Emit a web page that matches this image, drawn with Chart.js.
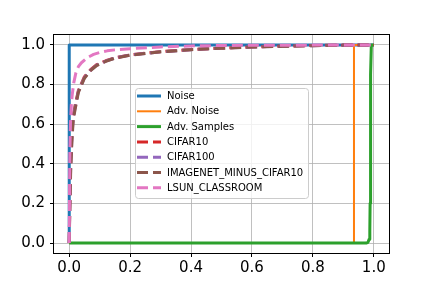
<!DOCTYPE html>
<html><head><meta charset="utf-8">
<script src="https://cdn.jsdelivr.net/npm/chart.js@4/dist/chart.umd.min.js"></script>
<style>html,body{margin:0;padding:0;background:#fff}#wrap{width:432px;height:288px}</style>
</head><body>
<div id="wrap"><canvas id="c" width="432" height="288"></canvas></div>
<script>
// ---- data ----
const seriesNames = ["Noise","Adv. Noise","Adv. Samples","CIFAR10","CIFAR100","IMAGENET_MINUS_CIFAR10","LSUN_CLASSROOM"];
const noiseX = [0, 0, 1];
const noiseY = [0, 1, 1];
const advNoiseX = [0, 0.935, 0.935, 1];
const advNoiseY = [0, 0, 1, 1];
const advSamplesX = [0, 0.975, 0.981, 0.985, 0.987, 0.988, 0.989, 0.990, 0.992, 1];
const advSamplesY = [0, 0, 0.004, 0.02, 0.06, 0.2, 0.5, 0.85, 1, 1];
const cifar10X = [0, 0.002, 0.005, 0.009, 0.013, 0.02, 0.03, 0.05, 0.07, 0.09, 0.12, 0.15, 0.2, 0.25, 0.3, 0.4, 0.5, 0.6, 0.7, 0.8, 0.9, 1];
const cifar10Y = [0, 0.22, 0.42, 0.56, 0.64, 0.70, 0.77, 0.84, 0.875, 0.90, 0.92, 0.935, 0.95, 0.958, 0.966, 0.977, 0.984, 0.99, 0.994, 0.997, 0.999, 1];
const cifar100X = [0, 0.002, 0.005, 0.009, 0.013, 0.02, 0.03, 0.05, 0.07, 0.09, 0.12, 0.15, 0.2, 0.25, 0.3, 0.4, 0.5, 0.6, 0.7, 0.8, 0.9, 1];
const cifar100Y = [0, 0.20, 0.40, 0.54, 0.63, 0.69, 0.765, 0.835, 0.872, 0.898, 0.918, 0.934, 0.949, 0.957, 0.965, 0.976, 0.984, 0.989, 0.993, 0.996, 0.999, 1];
const imagenetX = [0, 0.002, 0.005, 0.009, 0.013, 0.02, 0.03, 0.05, 0.07, 0.09, 0.12, 0.15, 0.2, 0.25, 0.3, 0.4, 0.5, 0.6, 0.7, 0.8, 0.9, 1];
const imagenetY = [0, 0.18, 0.38, 0.52, 0.62, 0.68, 0.76, 0.832, 0.87, 0.896, 0.917, 0.933, 0.948, 0.957, 0.965, 0.976, 0.983, 0.989, 0.993, 0.996, 0.999, 1];
const lsunX = [0, 0.001, 0.002, 0.004, 0.007, 0.01, 0.015, 0.022, 0.03, 0.04, 0.06, 0.08, 0.1, 0.125, 0.15, 0.2, 0.3, 0.4, 0.5, 0.6, 0.8, 1];
const lsunY = [0, 0.25, 0.45, 0.60, 0.70, 0.75, 0.81, 0.86, 0.89, 0.91, 0.936, 0.952, 0.962, 0.97, 0.975, 0.981, 0.99, 0.995, 0.997, 0.998, 0.999, 1];
const xTicks = [0, 0.2, 0.4, 0.6, 0.8, 1.0];
const yTicks = [0, 0.2, 0.4, 0.6, 0.8, 1.0];

// ---- styles ----
const colors = ["#1f77b4","#ff7f0e","#2ca02c","#d62728","#9467bd","#8c564b","#e377c2"];
const widths = [3, 2, 3, 3, 3, 3, 3];
const dashes = [[],[],[],[11,5],[11,5],[11,5],[11,5]];
const xs = [noiseX, advNoiseX, advSamplesX, cifar10X, cifar100X, imagenetX, lsunX];
const ys = [noiseY, advNoiseY, advSamplesY, cifar10Y, cifar100Y, imagenetY, lsunY];

const datasets = seriesNames.map((name, i) => ({
  label: name,
  data: xs[i].map((x, k) => ({x: x, y: ys[i][k]})),
  borderColor: colors[i],
  backgroundColor: colors[i],
  borderWidth: widths[i],
  borderDash: dashes[i],
  borderCapStyle: 'butt',
  borderJoinStyle: 'round',
  pointRadius: 0,
  tension: 0,
  fill: false,
  order: seriesNames.length - i
}));

const FONT = "'DejaVu Sans', sans-serif";

const framePlugin = {
  id: 'frame',
  afterDatasetsDraw(chart) {
    const {ctx, chartArea: a} = chart;
    ctx.save();
    ctx.strokeStyle = '#000';
    ctx.lineWidth = 1;
    ctx.strokeRect(Math.round(a.left) - 0.5, Math.round(a.top) - 0.5, Math.round(a.right - a.left) + 1, Math.round(a.bottom - a.top) + 1);
    ctx.restore();
  }
};

const legendPlugin = {
  id: 'customLegend',
  afterDraw(chart) {
    const ctx = chart.ctx;
    const bx = 135, by = 88, bw = 173, bh = 110, r = 3;
    ctx.save();
    ctx.beginPath();
    ctx.roundRect(bx + 0.5, by + 0.5, bw, bh, r);
    ctx.fillStyle = 'rgba(255,255,255,0.8)';
    ctx.fill();
    ctx.strokeStyle = '#cccccc';
    ctx.lineWidth = 1;
    ctx.stroke();
    ctx.font = '10px ' + FONT;
    ctx.textBaseline = 'middle';
    ctx.textAlign = 'left';
    seriesNames.forEach((name, i) => {
      const y = 96 + i * 15.3;
      ctx.beginPath();
      ctx.setLineDash(dashes[i]);
      ctx.lineCap = 'butt';
      ctx.strokeStyle = colors[i];
      ctx.lineWidth = widths[i];
      ctx.moveTo(137, y);
      ctx.lineTo(161, y);
      ctx.stroke();
      ctx.setLineDash([]);
      ctx.fillStyle = '#000';
      ctx.fillText(name, 167, y + 0.5);
    });
    ctx.restore();
  }
};

const tickFont = {family: FONT, size: 15};

new Chart(document.getElementById('c'), {
  type: 'line',
  data: {datasets: datasets},
  plugins: [framePlugin, legendPlugin],
  options: {
    responsive: false,
    devicePixelRatio: 1,
    animation: false,
    parsing: true,
    layout: {padding: {top: 35, right: 43, left: 0, bottom: 0}},
    plugins: {legend: {display: false}, tooltip: {enabled: false}},
    scales: {
      x: {
        type: 'linear',
        min: -0.05, max: 1.05,
        afterBuildTicks: s => { s.ticks = xTicks.map(v => ({value: v})); },
        afterFit: s => { s.height = 35; },
        ticks: {font: tickFont, color: '#000', padding: 2, maxRotation: 0,
                callback: v => v.toFixed(1)},
        grid: {color: '#b0b0b0', lineWidth: 0.8, tickColor: '#000', tickLength: 4, tickWidth: 1},
        border: {display: false}
      },
      y: {
        type: 'linear',
        min: -0.05, max: 1.05,
        afterBuildTicks: s => { s.ticks = yTicks.map(v => ({value: v})); },
        afterFit: s => { s.width = 54; },
        ticks: {font: tickFont, color: '#000', padding: 5,
                callback: v => v.toFixed(1)},
        grid: {color: '#b0b0b0', lineWidth: 0.8, tickColor: '#000', tickLength: 4, tickWidth: 1},
        border: {display: false}
      }
    }
  }
});
</script>
</body></html>
